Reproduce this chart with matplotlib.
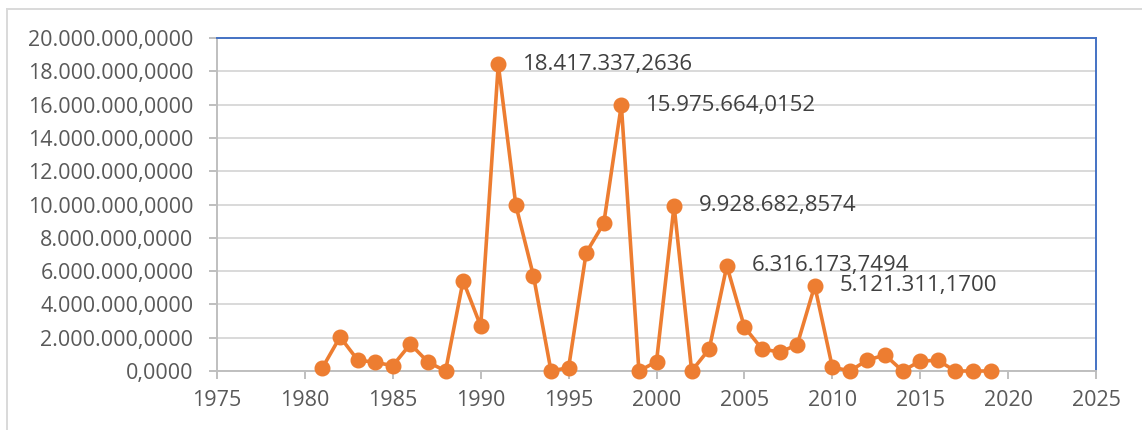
import matplotlib
matplotlib.use("Agg")
import matplotlib.pyplot as plt
from matplotlib.lines import Line2D
from matplotlib.ticker import FuncFormatter

years = [1981, 1982, 1983, 1984, 1985, 1986, 1987, 1988, 1989, 1990,
         1991, 1992, 1993, 1994, 1995, 1996, 1997, 1998, 1999, 2000,
         2001, 2002, 2003, 2004, 2005, 2006, 2007, 2008, 2009, 2010,
         2011, 2012, 2013, 2014, 2015, 2016, 2017, 2018, 2019]
values = [0.20e6, 2.05e6, 0.66e6, 0.52e6, 0.32e6, 1.62e6, 0.54e6, 0.0, 5.42e6, 2.70e6,
          18417337.2636, 9.95e6, 5.72e6, 0.0, 0.20e6, 7.10e6, 8.87e6, 15975664.0152, 0.0, 0.56e6,
          9928682.8574, 0.0, 1.32e6, 6316173.7494, 2.64e6, 1.32e6, 1.14e6, 1.56e6, 5121311.1700, 0.24e6,
          0.0, 0.66e6, 0.96e6, 0.0, 0.60e6, 0.64e6, 0.0, 0.0, 0.0]
label_years = [1991, 1998, 2001, 2004, 2009]
label_texts = ["18.417.337,2636", "15.975.664,0152", "9.928.682,8574",
               "6.316.173,7494", "5.121.311,1700"]
xticks = [1975, 1980, 1985, 1990, 1995, 2000, 2005, 2010, 2015, 2020, 2025]
yticks = [0, 2e6, 4e6, 6e6, 8e6, 10e6, 12e6, 14e6, 16e6, 18e6, 20e6]

plt.rcParams['font.family'] = ['Open Sans', 'DejaVu Sans']

fig = plt.figure(figsize=(11.42, 4.30), dpi=100)
ax = fig.add_axes([217/1142, 1 - 371/430, (1096 - 217)/1142, (371 - 38)/430])

orange = '#ED7D31'
ax.plot(years, values, color=orange, lw=2.6, marker='o', markersize=10.5,
        markerfacecolor=orange, markeredgecolor=orange, zorder=3, clip_on=False)

for yr, txt in zip(label_years, label_texts):
    v = values[years.index(yr)]
    ax.annotate(txt, (yr, v), xytext=(18, 0), textcoords='offset points',
                ha='left', va='center', fontsize=16, color='#404040')

ax.set_xlim(1975, 2025)
ax.set_ylim(0, 20e6)
ax.set_xticks(xticks)
ax.set_yticks(yticks)

def fmt(v, pos):
    s = f"{v:,.4f}"
    return s.replace(",", "X").replace(".", ",").replace("X", ".")

ax.yaxis.set_major_formatter(FuncFormatter(fmt))
ax.grid(axis='y', color='#D9D9D9', lw=1.4, zorder=0)
ax.set_axisbelow(True)

for side in ['left', 'bottom']:
    ax.spines[side].set_color('#BFBFBF')
    ax.spines[side].set_linewidth(1.4)
for side in ['top', 'right']:
    ax.spines[side].set_color('#4472C4')
    ax.spines[side].set_linewidth(1.4)

ax.tick_params(axis='both', colors='#BFBFBF', labelcolor='#595959', labelsize=15.5,
               length=6, width=1.4, direction='out')
ax.tick_params(axis='y', pad=11)
ax.tick_params(axis='x', pad=8)

fig.add_artist(Line2D([7/1142, 1], [1 - 9/430, 1 - 9/430], transform=fig.transFigure,
                      color='#D9D9D9', lw=1.4))
fig.add_artist(Line2D([7/1142, 7/1142], [0, 1 - 9/430], transform=fig.transFigure,
                      color='#D9D9D9', lw=1.4))

fig.savefig('out.png', dpi=100)
